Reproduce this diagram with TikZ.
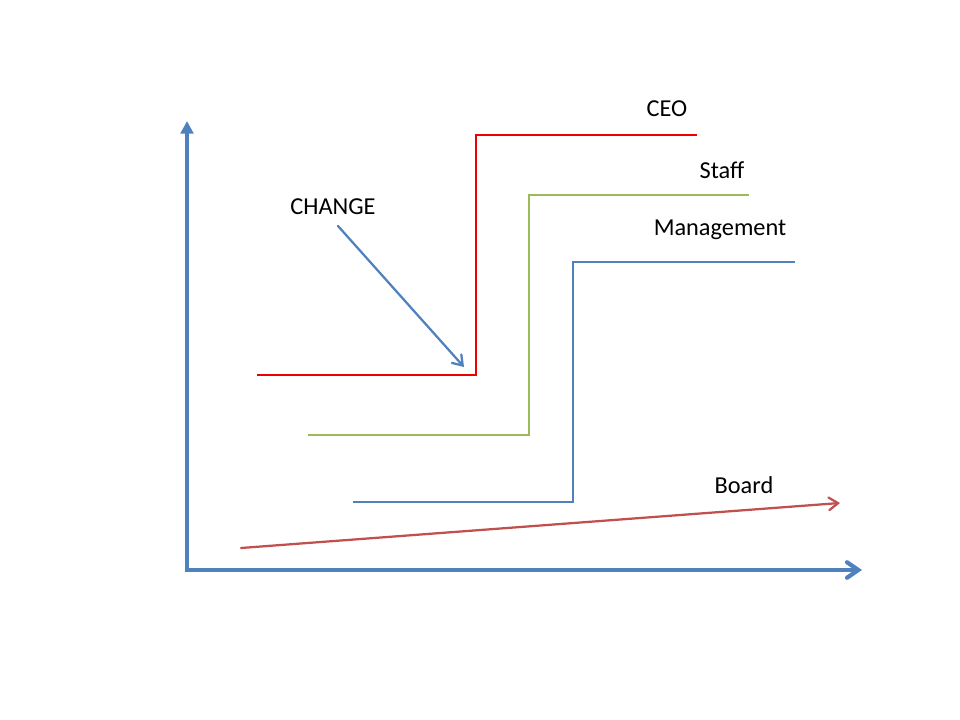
\documentclass[tikz,border=0pt]{standalone}
\usepackage{fontspec}
\setmainfont{Carlito}
\usetikzlibrary{arrows.meta}
\definecolor{axisblue}{HTML}{4F81BD}
\definecolor{ceored}{HTML}{EE0000}
\definecolor{staffgreen}{HTML}{9BBB59}
\definecolor{boardred}{HTML}{C0504D}
\begin{document}
\begin{tikzpicture}[x=0.025cm, y=-0.025cm, line join=miter, every node/.style={font=\fontsize{17.3}{20}\selectfont, inner sep=0pt},
  axis/.style={line width=3pt, color=axisblue, line cap=rect},
  stepline/.style={line width=2.1pt},
  pointer/.style={line width=1.6pt, line cap=round, -{Straight Barb[length=6.5pt,width=9pt,line cap=round]}}]

	\useasboundingbox (0,0) rectangle (960,720);
	
	% axes
	\coordinate (O) at (187,570);
	\coordinate (ytop) at (187,121);
	\coordinate (xend) at (862,570);
	\draw[axis, -{Triangle[length=9pt,width=9pt]}] (O) -- (ytop);
	\draw[axis, -{Straight Barb[length=8pt,width=11pt,line cap=round]}] (O) -- (xend);
	
	% step lines
	\foreach \n/\col/\xa/\xb/\ya/\yb/\xc in {ceo/ceored/257/476/375/135/697, staff/staffgreen/308/529/435/195/749, mgmt/axisblue/353/573/502/262/795} {
		\coordinate (\n-a) at (\xa,\ya);
		\coordinate (\n-b) at (\xb,\ya);
		\coordinate (\n-c) at (\xb,\yb);
		\coordinate (\n-d) at (\xc,\yb);
		\draw[stepline, \col] (\n-a) -- (\n-b) -- (\n-c) -- (\n-d);
	}
	
	% labels
	\node (ceo) at (667,109) {CEO};
	\node (staff) at (722,170) {Staff};
	\node (mgmt) at (720,230) {Management};
	\node (board) at (744,485) {Board};
	\node (change) at (333,207) {CHANGE};
	
	% arrows
	\coordinate (board-a) at (241,548);
	\coordinate (board-b) at (840,503);
	\draw[pointer, boardred] (board-a) -- (board-b);
	
	\coordinate (change-a) at (338,226);
	\coordinate (change-b) at (464,367);
	\draw[pointer, axisblue] (change-a) -- (change-b);
	
\end{tikzpicture}
\end{document}
